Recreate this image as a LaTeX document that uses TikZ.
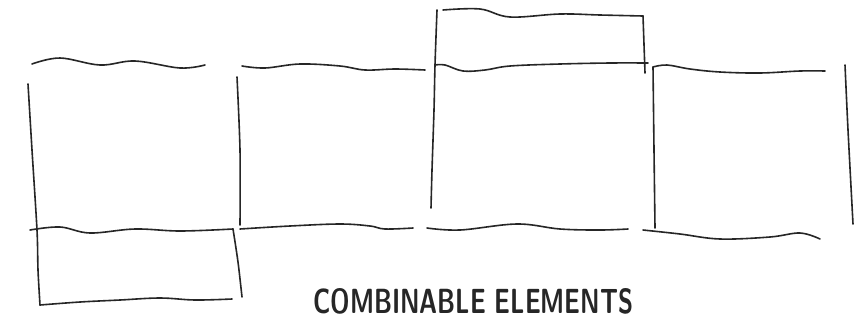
\documentclass[tikz,border=0pt]{standalone}
\usepackage{graphicx}
\begin{document}
\begin{tikzpicture}[x=1pt,y=-1pt,
  pen/.style={line width=1.6pt,draw=black!85,line cap=round,line join=round}]
\useasboundingbox[fill=white] (0,0) rectangle (866,325);
% box 1 top
\draw[pen] plot[smooth,tension=0.6] coordinates {(32,64) (60,58) (100,65) (135,61) (180,68) (205,65)};
% box 2 top
\draw[pen] plot[smooth,tension=0.6] coordinates {(242,66) (265,68) (300,64) (340,66) (365,70) (395,69) (425,70)};
% box 1 left, continuing to small box
\draw[pen] plot[smooth,tension=0.5] coordinates {(28,84) (32,150) (37,230) (38,270) (40,305)};
% divider box1/box2
\draw[pen] plot[smooth,tension=0.5] coordinates {(237,77) (240,150) (240,225)};
% middle horizontal
\draw[pen] plot[smooth,tension=0.6] coordinates {(30,230) (60,227) (90,233) (135,229) (180,231) (233,229)};
\draw[pen] plot[smooth,tension=0.6] coordinates {(240,229) (290,226) (340,224) (370,226) (385,229) (413,228)};
% small box right and bottom
\draw[pen] plot[smooth,tension=0.5] coordinates {(233,229) (238,262) (242,297)};
\draw[pen] plot[smooth,tension=0.6] coordinates {(40,305) (80,302) (120,300) (160,298) (195,300) (232,299)};
% top box (box 3 extension)
\draw[pen] plot[smooth,tension=0.6] coordinates {(443,10) (480,9) (510,17) (560,14) (600,15) (643,16)};
\draw[pen] (643,16) -- (645,73);
% line under top box
\draw[pen] plot[smooth,tension=0.6] coordinates {(435,65) (445,65) (463,71) (485,70) (510,66) (560,64) (610,63) (648,63)};
% box 3 left
\draw[pen] plot[smooth,tension=0.5] coordinates {(437,10) (435,65) (434,110) (432,170) (431,208)};
% box 3 bottom
\draw[pen] plot[smooth,tension=0.6] coordinates {(427,228) (460,230) (517,224) (560,229) (600,230) (628,229)};
% box 4
\draw[pen] plot[smooth,tension=0.6] coordinates {(653,67) (667,65) (690,69) (720,72) (760,73) (800,71) (825,71)};
\draw[pen] plot[smooth,tension=0.5] coordinates {(653,67) (654,150) (655,228)};
\draw[pen] plot[smooth,tension=0.5] coordinates {(845,65) (848,130) (853,224)};
\draw[pen] plot[smooth,tension=0.6] coordinates {(643,230) (680,234) (720,239) (770,237) (800,233) (820,239)};
% label
\node[anchor=west,inner sep=0pt,text=black!85] (lab) at (313,301) {\resizebox{320pt}{25pt}{\sffamily\bfseries COMBINABLE ELEMENTS}};
\end{tikzpicture}
\end{document}
